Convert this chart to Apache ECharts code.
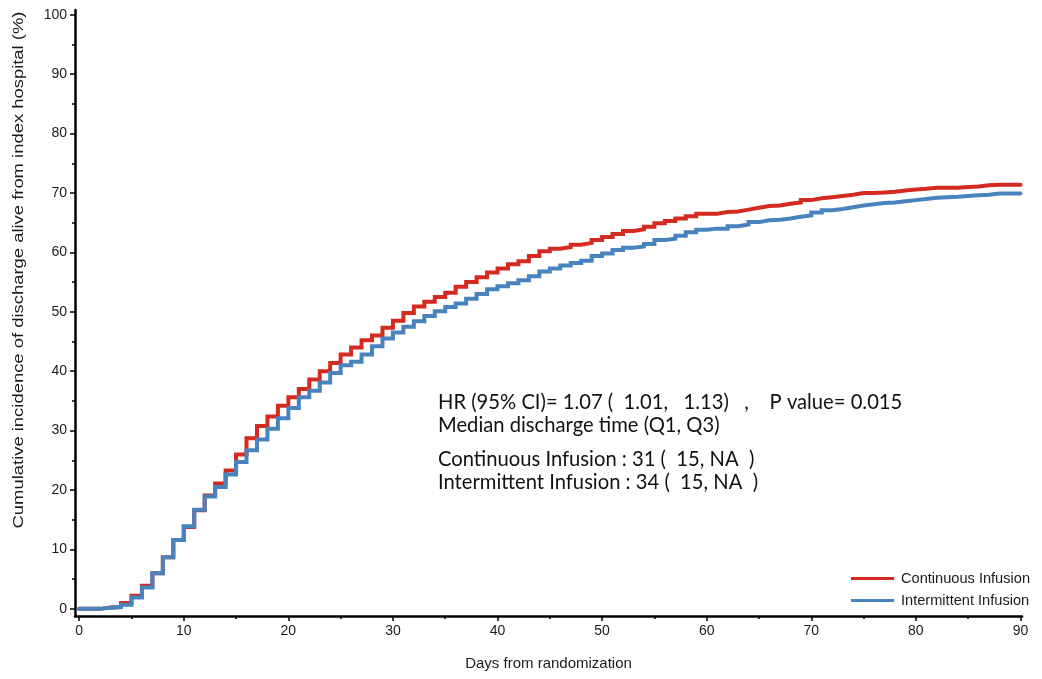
<!DOCTYPE html>
<html>
<head>
<meta charset="utf-8">
<script src="https://cdn.jsdelivr.net/npm/echarts@6/dist/echarts.min.js"></script>
<style>
  html, body { margin: 0; padding: 0; background: #fff; }
  #chart { width: 1042px; height: 679px; }
</style>
</head>
<body>
<div id="chart"></div>
<script>
// Cumulative incidence (%) of discharge alive, level held from day d to day d+1
const days = Array.from({ length: 91 }, (_, i) => i);

const continuousInfusion = [
  0, 0, 0.25, 0.3, 1.0, 2.2, 3.9, 6.0, 8.7, 11.6,
  13.8, 16.6, 19.1, 21.1, 23.3, 26.0, 28.7, 30.8, 32.4, 34.2,
  35.6, 37.0, 38.6, 40.0, 41.4, 42.8, 44.0, 45.2, 46.0, 47.3,
  48.5, 49.8, 50.9, 51.7, 52.5, 53.2, 54.2, 55.0, 55.8, 56.6,
  57.3, 58.0, 58.5, 59.4, 60.2, 60.6, 60.9, 61.3, 61.6, 62.1,
  62.6, 63.1, 63.6, 63.9, 64.3, 64.9, 65.3, 65.7, 66.1, 66.5,
  66.5, 66.8, 66.9, 67.2, 67.5, 67.8, 67.9, 68.2, 68.4, 68.8,
  69.1, 69.3, 69.5, 69.7, 70.0, 70.0, 70.1, 70.2, 70.4, 70.6,
  70.7, 70.9, 70.9, 70.9, 71.0, 71.1, 71.3, 71.4, 71.4, 71.4,
  71.4
];

const intermittentInfusion = [
  0, 0, 0.2, 0.3, 0.7, 1.9, 3.6, 6.0, 8.7, 11.6,
  13.9, 16.7, 18.9, 20.5, 22.6, 24.7, 26.7, 28.5, 30.3, 32.1,
  33.8, 35.6, 36.7, 38.1, 39.7, 41.0, 41.6, 42.8, 44.2, 45.5,
  46.5, 47.5, 48.4, 49.3, 50.1, 50.8, 51.4, 52.2, 53.0, 53.8,
  54.3, 54.8, 55.3, 56.0, 56.8, 57.3, 57.8, 58.2, 58.6, 59.4,
  59.8, 60.4, 60.8, 61.0, 61.4, 62.1, 62.3, 62.8, 63.4, 63.8,
  64.0, 64.0, 64.4, 64.7, 65.1, 65.4, 65.5, 65.7, 66.0, 66.2,
  66.7, 67.1, 67.3, 67.6, 67.9, 68.1, 68.3, 68.4, 68.6, 68.8,
  69.0, 69.2, 69.3, 69.35, 69.5, 69.6, 69.7, 69.9, 69.9, 69.9,
  69.9
];

const xMajorTicks = [0, 10, 20, 30, 40, 50, 60, 70, 80, 90];
const xMinorTicks = [5, 15, 25, 35, 45, 55, 65, 75, 85];
const yMajorTicks = [0, 10, 20, 30, 40, 50, 60, 70, 80, 90, 100];
const yMinorTicks = [5, 15, 25, 35, 45, 55, 65, 75, 85, 95];

const seriesNames = ['Continuous Infusion', 'Intermittent Infusion'];

const annotationLines = [
  'HR (95% CI)= 1.07 (  1.01,   1.13)   ,    P value= 0.015',
  'Median discharge time (Q1, Q3)',
  'Continuous Infusion : 31 (  15, NA  )',
  'Intermittent Infusion : 34 (  15, NA  )'
];

const RED = '#d42a1f';
const BLUE = '#4883bd';
const X_MIN = -0.4, X_MAX = 90.15;
const Y_MIN = -1.2, Y_MAX = 100.8;
const labelFont = { fontFamily: 'Liberation Sans, Arial, sans-serif', fontSize: 14, color: '#1a1a1a' };

function pairs(values) { return days.map((d, i) => [d, values[i]]); }

const chart = echarts.init(document.getElementById('chart'), null, { renderer: 'canvas' });

const minorX = {
  type: 'value', gridIndex: 0, min: X_MIN, max: X_MAX, position: 'bottom',
  axisLine: { show: false, onZero: false }, splitLine: { show: false },
  axisLabel: { show: false },
  axisTick: { show: true, customValues: xMinorTicks, length: 3, lineStyle: { color: '#000', width: 1.5 } }
};
const minorY = {
  type: 'value', gridIndex: 0, min: Y_MIN, max: Y_MAX, position: 'left',
  axisLine: { show: false, onZero: false }, splitLine: { show: false },
  axisLabel: { show: false },
  axisTick: { show: true, customValues: yMinorTicks, length: 3, lineStyle: { color: '#000', width: 1.5 } }
};

chart.setOption({
  animation: false,
  backgroundColor: '#fff',
  grid: { left: 75, right: 20, top: 10, bottom: 63, containLabel: false },
  legend: {
    orient: 'vertical',
    left: 846, top: 566,
    itemWidth: 43, itemHeight: 3, itemGap: 7,
    icon: 'rect',
    textStyle: { fontFamily: labelFont.fontFamily, fontSize: 14.6, color: '#1a1a1a', padding: [0, 0, 0, 2] },
    data: seriesNames
  },
  xAxis: [{
    type: 'value', min: X_MIN, max: X_MAX,
    name: 'Days from randomization', nameLocation: 'middle', nameGap: 40,
    nameTextStyle: { fontFamily: labelFont.fontFamily, fontSize: 15, color: '#1a1a1a' },
    axisLine: { show: true, onZero: false, lineStyle: { color: '#000', width: 2.5 } },
    axisTick: { show: true, customValues: xMajorTicks, length: 5, lineStyle: { color: '#000', width: 1.5 } },
    axisLabel: { customValues: xMajorTicks, margin: 8, ...labelFont },
    splitLine: { show: false }
  }, minorX],
  yAxis: [{
    type: 'value', min: Y_MIN, max: Y_MAX,
    axisLine: { show: true, onZero: false, lineStyle: { color: '#000', width: 2.5 } },
    axisTick: { show: true, customValues: yMajorTicks, length: 5, lineStyle: { color: '#000', width: 1.5 } },
    axisLabel: { customValues: yMajorTicks, margin: 8, ...labelFont },
    splitLine: { show: false }
  }, minorY],
  series: [
    {
      name: seriesNames[0], type: 'line', step: 'end',
      data: pairs(continuousInfusion),
      showSymbol: false, symbol: 'none',
      lineStyle: { color: RED, width: 4, cap: 'round', join: 'miter' },
      itemStyle: { color: RED },
      z: 2
    },
    {
      name: seriesNames[1], type: 'line', step: 'end',
      data: pairs(intermittentInfusion),
      showSymbol: false, symbol: 'none',
      lineStyle: { color: BLUE, width: 4, cap: 'round', join: 'miter' },
      itemStyle: { color: BLUE },
      z: 3
    }
  ],
  graphic: [
    {
      type: 'text',
      x: 19, y: 270, rotation: Math.PI / 2,
      scaleX: 1.27,
      style: {
        text: 'Cumulative incidence of discharge alive from index hospital (%)',
        fontFamily: labelFont.fontFamily, fontSize: 14.5, fill: '#1a1a1a',
        align: 'center', verticalAlign: 'middle'
      }
    },
    ...annotationLines.map((t, i) => ({
      type: 'text',
      x: 438, y: [402, 425, 459, 482][i],
      style: {
        text: t, fontFamily: 'Lato, "Open Sans", sans-serif', fontSize: 20.2, fill: '#111',
        verticalAlign: 'middle', align: 'left'
      }
    }))
  ]
});
</script>
</body>
</html>
